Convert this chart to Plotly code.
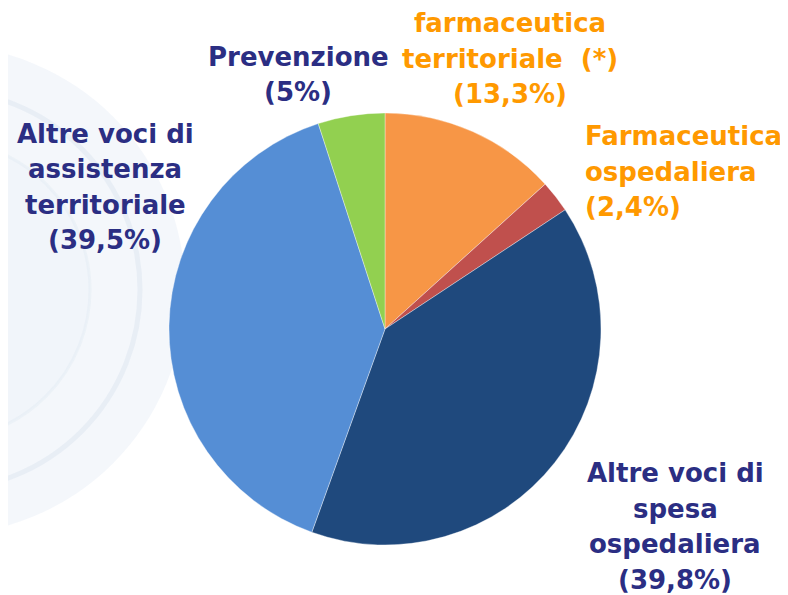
import plotly.graph_objects as go

categories = ["farmaceutica territoriale (*)", "Farmaceutica ospedaliera",
              "Altre voci di spesa ospedaliera", "Altre voci di assistenza territoriale",
              "Prevenzione"]
values = [13.3, 2.4, 39.8, 39.5, 5.0]
colors = ["#F79646", "#C0504D", "#1F497D", "#558ED5", "#92D050"]

label_lines = [
    ["farmaceutica", "territoriale  (*)", "(13,3%)"],
    ["Farmaceutica", "ospedaliera", "(2,4%)"],
    ["Altre voci di", "spesa", "ospedaliera", "(39,8%)"],
    ["Altre voci di", "assistenza", "territoriale", "(39,5%)"],
    ["Prevenzione", "(5%)"],
]
label_colors = ["#FF9900", "#FF9900", "#2B2E83", "#2B2E83", "#2B2E83"]
# label anchor: window pixels (x, y of first line centre), alignment
label_pos = [(510, 23, "center"), (583, 136, "left"), (675, 473, "center"),
             (105, 134, "center"), (298, 57, "center")]
LINE_STEP = 35.5

W, H = 788, 595
OFF = 8  # page body margin
cx, cy, r = 385, 329, 216


def px_x(v):
    return (v - OFF) / W


def px_y(v):
    return 1 - (v - OFF) / H


fig = go.Figure()
fig.add_trace(go.Pie(
    labels=categories, values=values, sort=False, direction="clockwise",
    rotation=0, textinfo="none", hoverinfo="label+percent",
    marker=dict(colors=colors, line=dict(color="rgba(255,255,255,0.6)", width=0.6)),
    domain=dict(x=[px_x(cx - r), px_x(cx + r)], y=[px_y(cy + r), px_y(cy - r)]),
    showlegend=False,
))

shapes = []
# faint watermark circles on the left
wm = [(-60, 290, 245, "rgba(228,236,244,0.4)", "rgba(0,0,0,0)", 0),
      (-60, 290, 200, "rgba(0,0,0,0)", "rgba(215,226,238,0.4)", 5),
      (-60, 290, 150, "rgba(236,242,248,0.35)", "rgba(222,231,241,0.35)", 3)]
for x0, y0, rr, fill, line, lw in wm:
    shapes.append(dict(type="circle", xref="paper", yref="paper",
                       x0=px_x(x0 - rr), x1=px_x(x0 + rr),
                       y0=px_y(y0 + rr), y1=px_y(y0 - rr),
                       fillcolor=fill, line=dict(color=line, width=lw), layer="below"))

annotations = []
for lines, col, (px, py, al) in zip(label_lines, label_colors, label_pos):
    xanchor = "center" if al == "center" else "left"
    for i, ln in enumerate(lines):
        annotations.append(dict(
            text=ln, x=px_x(px), y=px_y(py + i * LINE_STEP), xref="paper", yref="paper",
            xanchor=xanchor, yanchor="middle", align=al, showarrow=False,
            font=dict(family="DejaVu Sans", size=26, color=col, weight="bold"),
        ))

fig.update_layout(
    width=W, height=H, margin=dict(l=0, r=0, t=0, b=0),
    paper_bgcolor="white", plot_bgcolor="white",
    shapes=shapes, annotations=annotations,
)
fig.write_html("out.html")
